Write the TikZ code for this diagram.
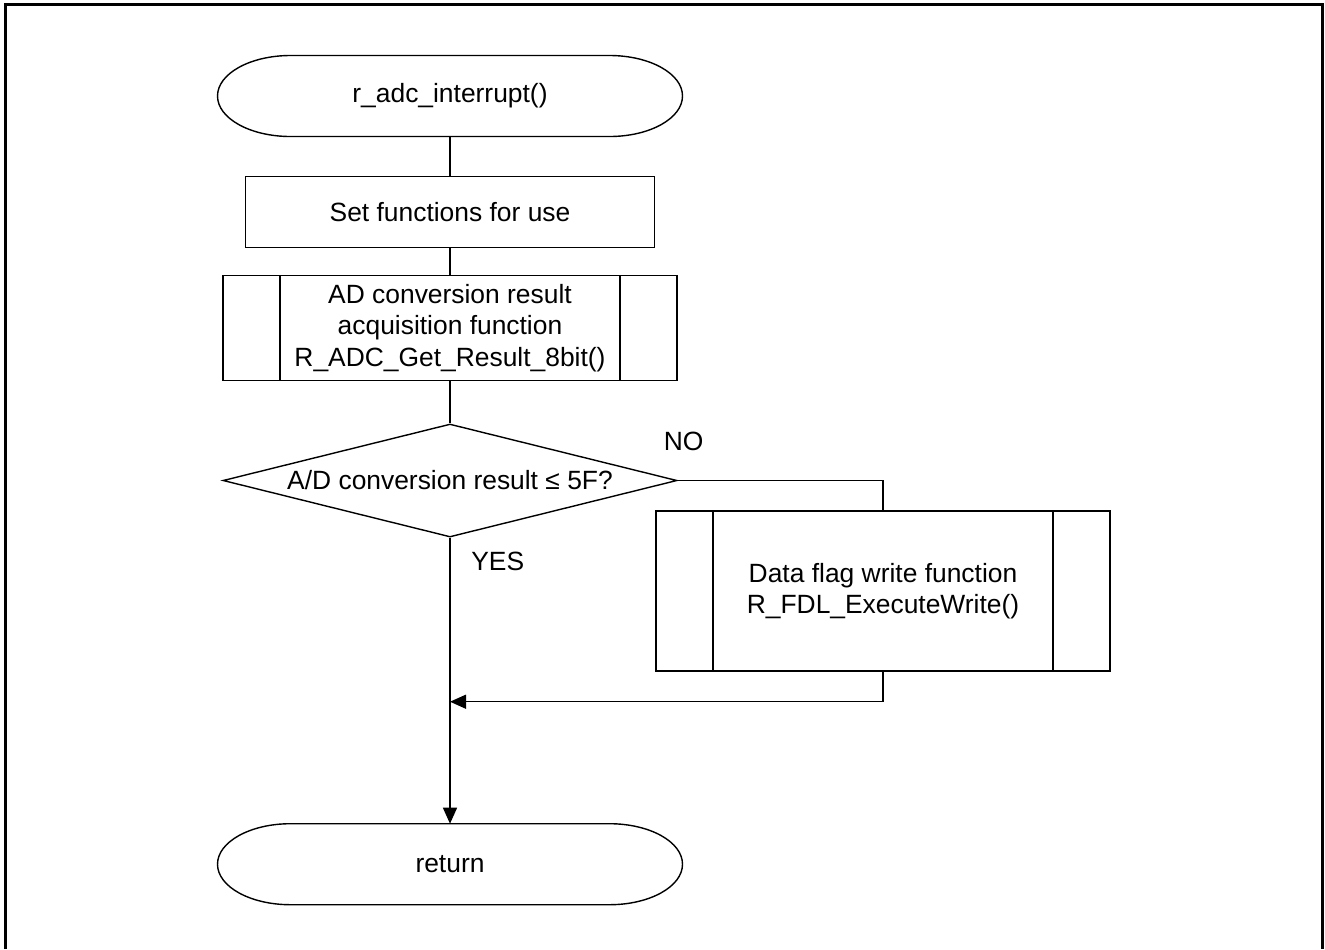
\documentclass[tikz,border=0pt]{standalone}
\usepackage{fontspec}
\setmainfont{Liberation Sans}
\usetikzlibrary{positioning,shapes.geometric,arrows.meta}

\begin{document}
\begin{tikzpicture}[
				font=\fontsize{13.2}{15.6}\selectfont,
				every path/.style={line width=0.7pt},
				terminal/.style={rectangle, minimum width=232.5pt, minimum height=40.5pt, inner sep=0pt, outer sep=0pt},
				process/.style={rectangle, draw=black, minimum width=204.5pt, minimum height=35.5pt, inner sep=0pt},
				subproc/.style={rectangle, draw=black, minimum width=227pt, align=center, inner sep=0pt,
					path picture={
						\draw ([xshift=28.5pt]path picture bounding box.north west) -- ([xshift=28.5pt]path picture bounding box.south west);
						\draw ([xshift=-28.5pt]path picture bounding box.north east) -- ([xshift=-28.5pt]path picture bounding box.south east);
					}},
				decision/.style={diamond, draw=black, aspect=4, minimum width=227pt, minimum height=56.5pt, inner sep=0pt},
				arrow/.style={-{Triangle[length=8pt,width=7pt]}}
			]
			\useasboundingbox (0,0) rectangle (662.5pt,-474.5pt);
			\draw[line width=1.5pt] (2.5pt,-474.5pt) -- (2.5pt,-2pt) -- (661pt,-2pt) -- (661pt,-474.5pt);
			\node[terminal] (start) at (225pt,-48pt) {r\_adc\_interrupt()};
			\node[process] (setfunc) [below=19.5pt of start] {Set functions for use};
			\node[subproc, minimum height=52.5pt] (getresult) [below=13.5pt of setfunc] {AD conversion result\\acquisition function\\R\_ADC\_Get\_Result\_8bit()};
			\node[decision] (check) [below=21pt of getresult] {A/D conversion result ≤ 5F?};
			\node[terminal] (return) [below=143pt of check] {return};
			\node[subproc, minimum height=80pt] (write) at (441.5pt,-295.5pt) {Data flag write function\\R\_FDL\_ExecuteWrite()};
			\node (no) at ([xshift=3pt,yshift=19.5pt]check.east) {NO};
			\node[anchor=west] (yes) at ([xshift=7pt,yshift=-12pt]check.south) {YES};
			\path (write.south) ++(0,-15pt) coordinate (writebelow);
			\coordinate (join) at (writebelow -| check.south);
			% terminals with elliptic ends
			\foreach \t in {start,return}
				\draw ([xshift=36.5pt]\t.north west) -- ([xshift=-36.5pt]\t.north east)
					arc[start angle=90, end angle=-90, x radius=36.5pt, y radius=20.25pt]
					-- ([xshift=36.5pt]\t.south west)
					arc[start angle=270, end angle=90, x radius=36.5pt, y radius=20.25pt] -- cycle;
			\draw (start.south) -- (setfunc.north);
			\draw (setfunc.south) -- (getresult.north);
			\draw (getresult.south) -- (check.north);
			\draw (check.east) -| (write.north);
			\draw[arrow] (write.south) |- (join);
			\draw[arrow] (check.south) -- (return.north);
			\end{tikzpicture}
\end{document}
